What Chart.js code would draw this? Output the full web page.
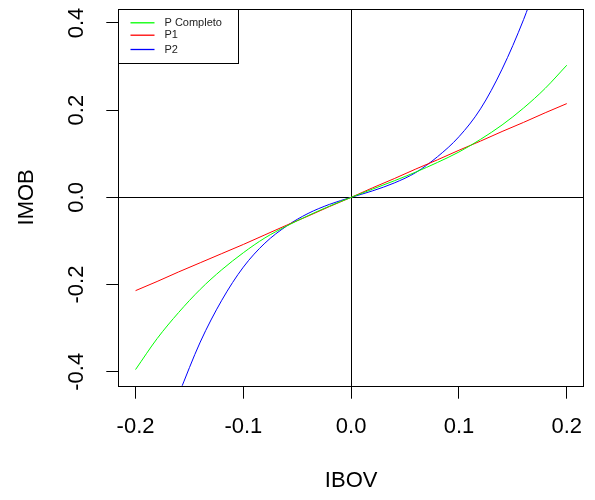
<!DOCTYPE html>
<html><head><meta charset="utf-8">
<script src="https://cdn.jsdelivr.net/npm/chart.js@4"></script>
<style>html,body{margin:0;padding:0;background:#fff;} canvas{display:block;}</style>
</head><body>
<canvas id="c" width="595" height="500"></canvas>
<script>
// ---- data ----
const ibov = [-0.20,-0.18,-0.16,-0.14,-0.12,-0.10,-0.08,-0.06,-0.04,-0.02,0.00,0.02,0.04,0.06,0.08,0.10,0.12,0.14,0.16,0.18,0.20];
const pCompleto = [-0.395,-0.324,-0.264,-0.211,-0.166,-0.127,-0.093,-0.066,-0.042,-0.020,0.000,0.019,0.038,0.058,0.080,0.104,0.133,0.166,0.205,0.250,0.303];
const p1 = [-0.214,-0.193,-0.171,-0.150,-0.129,-0.108,-0.086,-0.064,-0.043,-0.021,0.000,0.022,0.043,0.065,0.086,0.108,0.129,0.151,0.172,0.194,0.215];
const ibovP2 = [-0.16,-0.14,-0.12,-0.10,-0.08,-0.06,-0.04,-0.02,0.00,0.02,0.04,0.06,0.08,0.10,0.12,0.14,0.16,0.17];
const p2 = [-0.452,-0.332,-0.236,-0.160,-0.105,-0.066,-0.037,-0.016,0.000,0.015,0.033,0.057,0.093,0.139,0.203,0.294,0.408,0.475];
const seriesNames = ['P Completo','P1','P2'];
const seriesColors = ['#00ff00','#ff0000','#0000ff'];
const xTicks = [-0.2,-0.1,0,0.1,0.2];
const xTickLabels = ['-0.2','-0.1','0.0','0.1','0.2'];
const yTicks = [-0.4,-0.2,0,0.2,0.4];
const yTickLabels = ['-0.4','-0.2','0.0','0.2','0.4'];
const xTitle = 'IBOV';
const yTitle = 'IMOB';

const FONT = "'Liberation Sans', Arial, sans-serif";
const pts = (xs, ys) => xs.map((x, i) => ({x: x, y: ys[i]}));
const zeroLine = c => (c.tick && c.tick.value === 0) ? '#000' : 'rgba(0,0,0,0)';

const boxAndLegend = {
  id: 'boxAndLegend',
  afterDatasetsDraw(chart) {
    const ctx = chart.ctx, ca = chart.chartArea;
    ctx.save();
    ctx.strokeStyle = '#000';
    ctx.lineWidth = 1;
    ctx.strokeRect(Math.round(ca.left) + 0.5, Math.round(ca.top) + 0.5,
                   Math.round(ca.right - ca.left) - 1, Math.round(ca.bottom - ca.top));
    // legend
    const lx = Math.round(ca.left) + 0.5, ly = Math.round(ca.top) + 0.5;
    ctx.fillStyle = '#fff';
    ctx.fillRect(lx, ly, 120, 54);
    ctx.strokeRect(lx, ly, 120, 54);
    const rows = [13.3, 25.7, 40];
    chart.data.datasets.forEach((ds, i) => {
      const y = ly + rows[i];
      ctx.strokeStyle = seriesColors[i];
      ctx.lineWidth = 1.3;
      ctx.beginPath();
      ctx.moveTo(lx + 12, y);
      ctx.lineTo(lx + 36, y);
      ctx.stroke();
      ctx.fillStyle = '#222';
      ctx.font = '11px ' + FONT;
      ctx.textBaseline = 'middle';
      ctx.textAlign = 'left';
      ctx.fillText(ds.label, lx + 46, y);
    });
    ctx.restore();
  }
};

new Chart(document.getElementById('c'), {
  type: 'scatter',
  data: {
    datasets: [
      {label: seriesNames[0], data: pts(ibov, pCompleto), borderColor: seriesColors[0]},
      {label: seriesNames[1], data: pts(ibov, p1), borderColor: seriesColors[1]},
      {label: seriesNames[2], data: pts(ibovP2, p2), borderColor: seriesColors[2]}
    ].map(d => Object.assign(d, {showLine: true, pointRadius: 0, borderWidth: 1, fill: false, cubicInterpolationMode: 'monotone'}))
  },
  options: {
    responsive: false,
    animation: false,
    layout: {padding: {left: 0, right: 11, top: 9, bottom: 0}},
    plugins: {legend: {display: false}, tooltip: {enabled: false}},
    scales: {
      x: {
        type: 'linear', min: -0.216, max: 0.216,
        afterBuildTicks: s => { s.ticks = xTicks.map(v => ({value: v})); },
        afterFit: s => { s.height = 114.3; s.paddingLeft = 0; s.paddingRight = 0; },
        ticks: {autoSkip: false, maxRotation: 0, minRotation: 0, padding: 15, color: '#000',
                font: {family: FONT, size: 22}, callback: (v, i) => xTickLabels[i]},
        grid: {drawOnChartArea: true, color: zeroLine, tickColor: '#000', tickLength: 13, lineWidth: 1},
        border: {display: false},
        title: {display: true, text: xTitle, color: '#000', font: {family: FONT, size: 22}, padding: {top: 0, bottom: 6}}
      },
      y: {
        type: 'linear', min: -0.432, max: 0.432,
        afterBuildTicks: s => { s.ticks = yTicks.map(v => ({value: v})); },
        afterFit: s => { s.width = 118.3; s.paddingTop = 0; s.paddingBottom = 0; },
        ticks: {autoSkip: false, minRotation: 90, maxRotation: 90, crossAlign: 'center', padding: 10, color: '#000',
                font: {family: FONT, size: 22}, callback: (v, i) => yTickLabels[i]},
        grid: {drawOnChartArea: true, color: zeroLine, tickColor: '#000', tickLength: 12, lineWidth: 1},
        border: {display: false},
        title: {display: true, text: yTitle, color: '#000', font: {family: FONT, size: 22}, padding: {top: 14, bottom: 0}}
      }
    }
  },
  plugins: [boxAndLegend]
});
</script>
</body></html>
